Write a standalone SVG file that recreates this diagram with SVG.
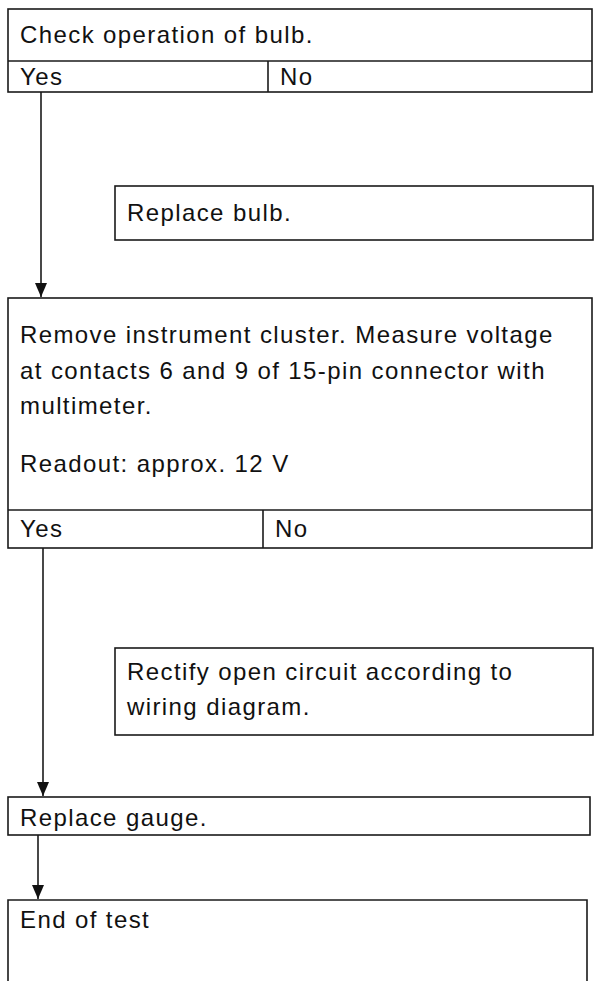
<svg xmlns="http://www.w3.org/2000/svg" width="595" height="981" viewBox="0 0 595 981">
<defs>
<style>
.box{fill:#fff;stroke:#1a1a1a;stroke-width:1.6}
.ln{fill:none;stroke:#1a1a1a;stroke-width:1.6}
.t{font-family:"Liberation Sans",Arial,sans-serif;font-size:24px;fill:#111;letter-spacing:1.4px}
</style>
<marker id="ah" viewBox="0 0 14 12" refX="14" refY="6" markerWidth="14" markerHeight="12" markerUnits="userSpaceOnUse" orient="auto">
<path d="M0,0 L14,6 L0,12 Z" fill="#111"/>
</marker>
</defs>
<rect width="595" height="981" fill="#fff"/>
<g id="connectors">
<line class="ln" x1="41" y1="92" x2="41" y2="297" marker-end="url(#ah)"/>
<line class="ln" x1="43" y1="548" x2="43" y2="796" marker-end="url(#ah)"/>
<line class="ln" x1="38" y1="835" x2="38" y2="899" marker-end="url(#ah)"/>
</g>
<g id="n1">
<rect class="box" x="8" y="9" width="584" height="83"/>
<line class="ln" x1="8" y1="61" x2="592" y2="61"/>
<line class="ln" x1="268" y1="61" x2="268" y2="92"/>
<text class="t" x="20" y="43">Check operation of bulb.</text>
<text class="t" x="20" y="85">Yes</text>
<text class="t" x="280" y="85">No</text>
</g>
<g id="n2">
<rect class="box" x="115" y="186" width="478" height="54"/>
<text class="t" x="127" y="221">Replace bulb.</text>
</g>
<g id="n3">
<rect class="box" x="8" y="298" width="584" height="250"/>
<line class="ln" x1="8" y1="510" x2="592" y2="510"/>
<line class="ln" x1="263" y1="510" x2="263" y2="548"/>
<text class="t" x="20" y="343">Remove instrument cluster. Measure voltage</text>
<text class="t" x="20" y="379">at contacts 6 and 9 of 15-pin connector with</text>
<text class="t" x="20" y="414">multimeter.</text>
<text class="t" x="20" y="472">Readout: approx. 12 V</text>
<text class="t" x="20" y="537">Yes</text>
<text class="t" x="275" y="537">No</text>
</g>
<g id="n4">
<rect class="box" x="115" y="648" width="478" height="87"/>
<text class="t" x="127" y="680">Rectify open circuit according to</text>
<text class="t" x="127" y="715">wiring diagram.</text>
</g>
<g id="n5">
<rect class="box" x="8" y="797" width="582" height="38"/>
<text class="t" x="20" y="826">Replace gauge.</text>
</g>
<g id="n6">
<path class="ln" d="M8,990 L8,900 L587,900 L587,990"/>
<text class="t" x="20" y="928">End of test</text>
</g>
</svg>
